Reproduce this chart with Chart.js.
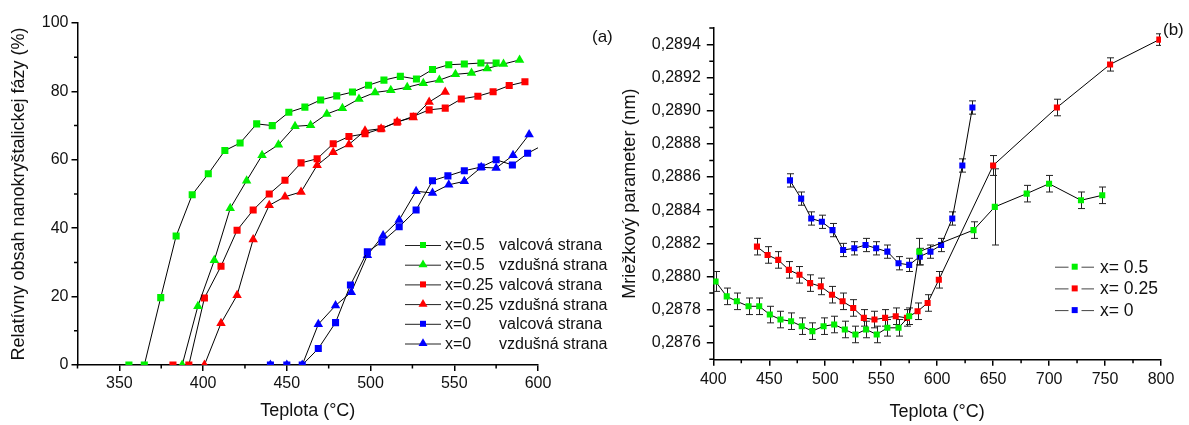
<!DOCTYPE html>
<html>
<head>
<meta charset="utf-8">
<script src="https://cdn.jsdelivr.net/npm/chart.js@4.4.1/dist/chart.umd.min.js"></script>
<style>
  body { margin: 0; background: #fff; }
  #wrap { position: relative; width: 1189px; height: 425px; }
  canvas { position: absolute; top: 0; }
  #chartA { left: 0; }
  #chartB { left: 600px; }
  .tag { position: absolute; font: 17px 'Liberation Sans', Arial, sans-serif; line-height: 20px; color: #111; }
</style>
</head>
<body>
<div id="wrap">
  <canvas id="chartA" width="625" height="425"></canvas>
  <canvas id="chartB" width="589" height="425"></canvas>
  <span class="tag" style="left:592px; top:27px">(a)</span>
  <span class="tag" style="left:1163px; top:20px">(b)</span>
</div>
<script>
// (a) relative nanocrystalline content vs. temperature
const tA05v = [355.7, 364.9, 374.7, 383.9, 393.5, 403.1, 413, 422.1, 432, 441.3, 451.2, 460.8, 470.2, 479.8, 489.2, 498.8, 508, 517.8, 527.4, 537, 546.7, 556, 565.9, 575];
const rA05v = [0, 0, 19.7, 37.7, 49.8, 55.9, 62.7, 64.9, 70.5, 70.0, 73.9, 75.4, 77.5, 78.7, 79.8, 81.8, 83.3, 84.4, 83.6, 86.4, 87.8, 88.0, 88.3, 88.3];
const tA05z = [387.5, 396.9, 406.7, 416.2, 426, 435.2, 445, 454.9, 464.2, 473.9, 483.2, 493.1, 502.7, 512.1, 521.9, 531.5, 541.1, 550.7, 560.3, 569.7, 579.4, 589];
const rA05z = [0, 17.2, 30.6, 45.8, 53.9, 61.3, 64.4, 69.8, 70.1, 73.4, 75.1, 77.8, 79.7, 80.3, 81.2, 82.4, 83.3, 85.0, 85.4, 86.7, 88.0, 89.2];
const tA025v = [382, 391.5, 400.8, 410.7, 420.3, 429.9, 439.5, 448.9, 458.5, 468.1, 477.7, 487.1, 496.7, 506.3, 515.9, 525.5, 535, 544.6, 554.2, 564.1, 573.2, 582.8, 592.2];
const rA025v = [0, 0, 19.6, 28.9, 39.4, 45.3, 50.0, 54.0, 59.1, 60.3, 64.7, 66.8, 67.6, 69.1, 71.0, 72.7, 74.6, 75.1, 77.8, 78.6, 79.9, 81.7, 82.8];
const tA025z = [400.8, 410.7, 420.3, 429.9, 439.5, 448.9, 458.5, 468.1, 477.7, 487.1, 496.7, 506.3, 515.9, 525.5, 535, 544.6];
const rA025z = [0, 12.2, 20.4, 36.7, 46.7, 49.2, 50.6, 58.4, 62.2, 64.5, 68.5, 69.1, 71.1, 72.4, 76.9, 79.8];
const tA0v = [440.2, 450, 459.2, 468.8, 479.1, 488, 498.1, 506.8, 517.1, 527.2, 537, 546.2, 556, 566.1, 575, 584.7, 593.8, 603.4];
const rA0v = [0, 0, 0, 4.8, 12.4, 23.4, 33.1, 36.0, 40.4, 45.3, 53.9, 55.3, 56.8, 57.9, 60.0, 58.5, 61.9, 64.4];
const tA0z = [440.2, 450, 459.2, 468.8, 479.1, 488.5, 498.1, 507.5, 517.1, 527.2, 537, 546.7, 556, 566.1, 575, 585.1, 594.7];
const rA0z = [0, 0, 0, 11.9, 17.4, 21.3, 32.1, 37.9, 42.4, 50.8, 50.3, 52.7, 53.7, 57.8, 57.6, 61.3, 67.4];

const xTicksA = [350, 400, 450, 500, 550, 600];
const xMinorA = [325, 375, 425, 475, 525, 575];
const yTicksA = [0, 20, 40, 60, 80, 100];
const yMinorA = [10, 30, 50, 70, 90];

// (b) lattice parameter vs. temperature, with error bars
const tB05 = [402, 412, 421, 431.5, 441, 450.5, 460, 469.5, 479, 488.5, 498.5, 508, 517.5, 527, 536.5, 546, 555.5, 565.5, 575, 584, 632.5, 651.5, 680, 700, 728.5, 747.5];
const aB05 = [0.28797, 0.28788, 0.28785, 0.28782, 0.28782, 0.28777, 0.28774, 0.28773, 0.28770, 0.28767, 0.28770, 0.28771, 0.28768, 0.28765, 0.28768, 0.28765, 0.28769, 0.28769, 0.28776, 0.28815, 0.28828, 0.28842, 0.28850, 0.28856, 0.28846, 0.28849];
const eB05 = [0.00006, 0.00005, 0.00005, 0.00005, 0.00005, 0.00005, 0.00005, 0.00005, 0.00005, 0.00005, 0.00005, 0.00005, 0.00005, 0.00005, 0.00005, 0.00005, 0.00005, 0.00005, 0.00005, 0.00008, 0.00005, 0.00023, 0.00005, 0.00005, 0.00005, 0.00005];
const tB025 = [439, 448.5, 458, 467.5, 477, 486.5, 496, 506, 515.5, 525, 534.5, 544, 553.5, 563, 573, 582.5, 591.5, 601.5, 650, 707, 754.5, 798.5];
const aB025 = [0.28818, 0.28813, 0.28810, 0.28804, 0.28801, 0.28796, 0.28794, 0.28789, 0.28785, 0.28781, 0.28775, 0.28774, 0.28775, 0.28776, 0.28775, 0.28779, 0.28784, 0.28798, 0.28867, 0.28902, 0.28928, 0.28943];
const eB025 = [0.00005, 0.00005, 0.00005, 0.00005, 0.00005, 0.00005, 0.00005, 0.00005, 0.00005, 0.00005, 0.00005, 0.00005, 0.00005, 0.00005, 0.00005, 0.00005, 0.00005, 0.00005, 0.00006, 0.00005, 0.00004, 0.000035];
const tB0 = [468.5, 478.5, 487.5, 497, 506.5, 516, 526, 536, 545.5, 555.5, 565.5, 575, 584.5, 594, 603.5, 613.5, 622.5, 631.5];
const aB0 = [0.28858, 0.28847, 0.28835, 0.28833, 0.28828, 0.28816, 0.28817, 0.28819, 0.28817, 0.28815, 0.28808, 0.28807, 0.28812, 0.28815, 0.28819, 0.28835, 0.28867, 0.28902];
const eB0 = [0.00004, 0.00004, 0.00004, 0.00004, 0.00004, 0.00004, 0.00004, 0.00004, 0.00004, 0.00004, 0.00004, 0.00004, 0.00005, 0.00004, 0.00004, 0.00004, 0.00004, 0.00004];

const xTicksB = [400, 450, 500, 550, 600, 650, 700, 750, 800];
const xMinorB = [425, 475, 525, 575, 625, 675, 725, 775];
const yTicksB = [0.2876, 0.2878, 0.2880, 0.2882, 0.2884, 0.2886, 0.2888, 0.2890, 0.2892, 0.2894];
const yMinorB = [0.2875, 0.2877, 0.2879, 0.2881, 0.2883, 0.2885, 0.2887, 0.2889, 0.2891, 0.2893, 0.2895];

const GREEN = '#00f000', RED = '#ff0000', BLUE = '#0000ff';
const FONT = "'Liberation Sans', Arial, sans-serif";

Chart.defaults.font.family = FONT;
Chart.defaults.color = '#111';

const pts = (xs, ys) => xs.map((x, i) => ({x, y: ys[i]}));

function drawMarker(ctx, style, x, y, r, color) {
  ctx.fillStyle = color;
  ctx.beginPath();
  if (style === 'triangle') {
    const s = Math.sin(Math.PI / 3) * r;
    ctx.moveTo(x, y - r);
    ctx.lineTo(x + s, y + r / 2);
    ctx.lineTo(x - s, y + r / 2);
    ctx.closePath();
  } else {
    ctx.rect(x - r, y - r, 2 * r, 2 * r);
  }
  ctx.fill();
}

// legend with separate text columns
function makeLegend(cfg) {
  return {
    id: 'seriesLegend',
    afterDraw(chart) {
      const ctx = chart.ctx;
      ctx.save();
      ctx.font = cfg.font;
      ctx.textBaseline = 'middle';
      chart.data.datasets.forEach((ds, i) => {
        const y = cfg.top + i * cfg.row;
        ctx.strokeStyle = cfg.lineColor;
        ctx.lineWidth = 1;
        ctx.beginPath();
        cfg.segments.forEach(([a, b]) => { ctx.moveTo(a, y + 0.5); ctx.lineTo(b, y + 0.5); });
        ctx.stroke();
        const r = ds.pointStyle === 'triangle' ? cfg.triR : cfg.rectR;
        drawMarker(ctx, ds.pointStyle, cfg.markerX, y, r, ds.pointBackgroundColor);
        ctx.fillStyle = '#111';
        ds.legendText.forEach((t, k) => ctx.fillText(t, cfg.columns[k], y + 1));
      });
      ctx.restore();
    }
  };
}

// short ticks between the labelled ones
function makeMinorTicks(xs, ys, len) {
  return {
    id: 'minorTicks',
    afterDraw(chart) {
      const {ctx, chartArea, scales: {x, y}} = chart;
      ctx.save();
      ctx.strokeStyle = '#000';
      ctx.lineWidth = 1.5;
      ctx.beginPath();
      xs.forEach(v => {
        const px = x.getPixelForValue(v);
        ctx.moveTo(px, chartArea.bottom);
        ctx.lineTo(px, chartArea.bottom + len);
      });
      ys.forEach(v => {
        const py = y.getPixelForValue(v);
        ctx.moveTo(chartArea.left, py);
        ctx.lineTo(chartArea.left - len, py);
      });
      ctx.stroke();
      ctx.restore();
    }
  };
}

const errorBars = {
  id: 'errorBars',
  beforeDatasetsDraw(chart) {
    const {ctx, chartArea, scales: {x, y}} = chart;
    const cap = 3.5;
    ctx.save();
    ctx.beginPath();
    ctx.rect(chartArea.left, chartArea.top, chartArea.width, chartArea.height);
    ctx.clip();
    ctx.strokeStyle = '#222';
    ctx.lineWidth = 1;
    chart.data.datasets.forEach(ds => {
      if (!ds.errors) return;
      ds.data.forEach((p, i) => {
        const e = ds.errors[i];
        const px = Math.round(x.getPixelForValue(p.x)) + 0.5;
        const yt = y.getPixelForValue(p.y + e);
        const yb = y.getPixelForValue(p.y - e);
        ctx.beginPath();
        ctx.moveTo(px, yt); ctx.lineTo(px, yb);
        ctx.moveTo(px - cap, yt); ctx.lineTo(px + cap, yt);
        ctx.moveTo(px - cap, yb); ctx.lineTo(px + cap, yb);
        ctx.stroke();
      });
    });
    ctx.restore();
  }
};

function axis(opts) {
  return {
    type: 'linear',
    min: opts.min,
    max: opts.max,
    afterBuildTicks: s => { s.ticks = opts.ticks.map(v => ({value: v})); },
    afterFit: opts.fit,
    grid: { drawOnChartArea: false, drawTicks: true, tickLength: opts.tickLength, color: '#000', lineWidth: 1.5 },
    border: { display: true, color: '#000', width: 1.5 },
    ticks: { padding: opts.pad, font: {size: 16}, color: '#111', maxRotation: 0, autoSkip: false, callback: opts.format },
    title: { display: true, text: opts.title, font: {size: 18}, color: '#111', padding: opts.titlePad }
  };
}

function lineSet(xs, ys, style, color, radius, legendText, errors) {
  return {
    data: pts(xs, ys),
    pointStyle: style,
    pointRadius: radius,
    pointBackgroundColor: color,
    pointBorderWidth: 0,
    borderColor: '#000',
    borderWidth: 1,
    tension: 0,
    clip: 0,
    legendText,
    errors
  };
}

new Chart(document.getElementById('chartA'), {
  type: 'line',
  data: {
    datasets: [
      lineSet(tA05v, rA05v, 'rect', GREEN, 5, ['x=0.5', 'valcová strana']),
      lineSet(tA05z, rA05z, 'triangle', GREEN, 5.5, ['x=0.5', 'vzdušná strana']),
      lineSet(tA025v, rA025v, 'rect', RED, 5, ['x=0.25', 'valcová strana']),
      lineSet(tA025z, rA025z, 'triangle', RED, 5.5, ['x=0.25', 'vzdušná strana']),
      lineSet(tA0v, rA0v, 'rect', BLUE, 5, ['x=0', 'valcová strana']),
      lineSet(tA0z, rA0z, 'triangle', BLUE, 5.5, ['x=0', 'vzdušná strana'])
    ]
  },
  options: {
    responsive: false,
    animation: false,
    layout: { padding: { top: 23, right: 87, bottom: 0, left: 0 } },
    plugins: { legend: { display: false }, tooltip: { enabled: false } },
    scales: {
      x: axis({ min: 325, max: 600, ticks: xTicksA, tickLength: 6, pad: 3, fit: s => { s.height = 60; },
                title: 'Teplota (°C)', titlePad: { top: 0, bottom: 3 } }),
      y: axis({ min: 0, max: 100, ticks: yTicksA, tickLength: 6, pad: 3, fit: s => { s.width = 77.5; },
                title: 'Relatívny obsah nanokryštalickej fázy (%)', titlePad: { top: 8, bottom: 0 } })
    }
  },
  plugins: [
    makeMinorTicks(xMinorA, yMinorA, 3.5),
    makeLegend({ font: '16px ' + FONT, top: 245, row: 19.7, segments: [[405, 441]], markerX: 423,
                 rectR: 3, triR: 5.2, columns: [445, 499], lineColor: '#222' })
  ]
});

new Chart(document.getElementById('chartB'), {
  type: 'line',
  data: {
    datasets: [
      lineSet(tB05, aB05, 'rect', GREEN, 4.3, ['x= 0.5'], eB05),
      lineSet(tB025, aB025, 'rect', RED, 4.3, ['x= 0.25'], eB025),
      lineSet(tB0, aB0, 'rect', BLUE, 4.3, ['x= 0'], eB0)
    ]
  },
  options: {
    responsive: false,
    animation: false,
    layout: { padding: { top: 28, right: 28, bottom: 0, left: 0 } },
    plugins: { legend: { display: false }, tooltip: { enabled: false } },
    scales: {
      x: axis({ min: 400, max: 800, ticks: xTicksB, tickLength: 6.5, pad: 4, fit: s => { s.height = 65.7; },
                title: 'Teplota (°C)', titlePad: { top: 0, bottom: 2 } }),
      y: axis({ min: 0.2875, max: 0.2895, ticks: yTicksB, tickLength: 6.5, pad: 6, fit: s => { s.width = 113.3; },
                format: v => v.toFixed(4).replace('.', ','),
                title: 'Mriežkový parameter (nm)', titlePad: { top: 19, bottom: 0 } })
    }
  },
  plugins: [
    errorBars,
    makeMinorTicks(xMinorB, yMinorB, 4),
    makeLegend({ font: '17.5px ' + FONT, top: 266.7, row: 21.7, segments: [[455, 468.5], [481.5, 494]], markerX: 474.7,
                 rectR: 3, triR: 5, columns: [500], lineColor: '#444' })
  ]
});
</script>
</body>
</html>
